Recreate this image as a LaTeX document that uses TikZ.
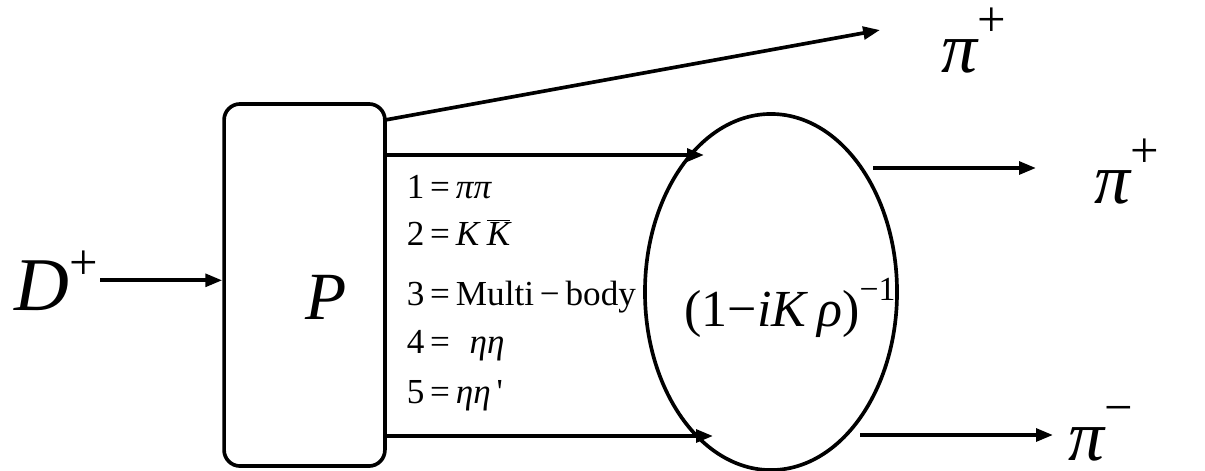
\documentclass[tikz,border=0pt]{standalone}
\usepackage{fontspec}
\setmainfont{Liberation Serif}
\usetikzlibrary{arrows.meta,shapes.geometric}

% pi mit hochgestelltem Ladungszeichen
\newcommand{\picharge}[1]{{\itshape π}\raisebox{25pt}{\fontsize{36}{36}\selectfont\upshape #1}}

\begin{document}
\begin{tikzpicture}[x=0.025cm, y=-0.025cm, >={Triangle[length=12pt,width=9pt]}, line width=2.6pt,
    every node/.style={inner sep=0pt},
    pilab/.style={anchor=base west, font=\fontsize{51}{51}\selectfont},
    chan/.style={anchor=base west, font=\fontsize{25}{25}\selectfont}]

    \useasboundingbox (0,0) rectangle (1205,470);

    % 1. Kasten P und Ellipse
    \node[draw, rounded corners=0.4cm, minimum width=4.02cm, minimum height=9.05cm] (box) at (304.5,285) {};
    \node[font=\fontsize{48}{48}\selectfont\itshape] (P) at (326,297) {P};
    \node[draw, ellipse, minimum width=6.3cm, minimum height=8.9cm] (loop) at (771,292) {};
    \node[anchor=base, font=\fontsize{37}{37}\selectfont] (amp) at (790,326)
        {(1−\textit{iK}\,\textit{ρ})\raisebox{18pt}{\fontsize{24}{24}\selectfont −1}};

    % 2. Anfangszustand D+
    \node[anchor=base west, font=\fontsize{54}{54}\selectfont] (D) at (13,310)
        {\textit{D}\raisebox{22pt}{\fontsize{36}{36}\selectfont +}};
    \draw[->] (D.east) -- (box.west |- D.east);

    % 3. Kanaele
    \node[chan] (c1) at (405,198) {1\,=\,\textit{ππ}};
    \node[chan] (c2) at (405,245) {2\,=\,\textit{K}\,$\overline{\hbox{\itshape K}}$};
    \node[chan] (c3) at (405,305) {3\,=\,Multi\,−\,body};
    \node[chan] (c4) at (405,353) {4\,=\;\;\textit{ηη}};
    \node[chan] (c5) at (405,403) {5\,=\,\textit{ηη}\,\textquotesingle};

    % 4. Endzustaende
    \node[pilab] (pia) at (940,72) {\picharge{+}};
    \node[pilab] (pib) at (1093,203) {\picharge{+}};
    \node[pilab] (pic) at (1067,460) {\picharge{−}};

    \coordinate (s1) at (385,120);
    \coordinate (t1) at (880,30);
    \coordinate (e1) at (704,155);
    \coordinate (e2) at (713,436);
    \coordinate (r1) at (873,168);
    \coordinate (t2) at (1036,168);
    \coordinate (r2) at (860,435);
    \coordinate (t3) at (1053,435);

    \draw[->] (s1) -- (t1);
    \draw[->] (box.east |- e1) -- (e1);
    \draw[->] (box.east |- e2) -- (e2);
    \draw[->] (r1) -- (t2);
    \draw[->] (r2) -- (t3);
\end{tikzpicture}
\end{document}
